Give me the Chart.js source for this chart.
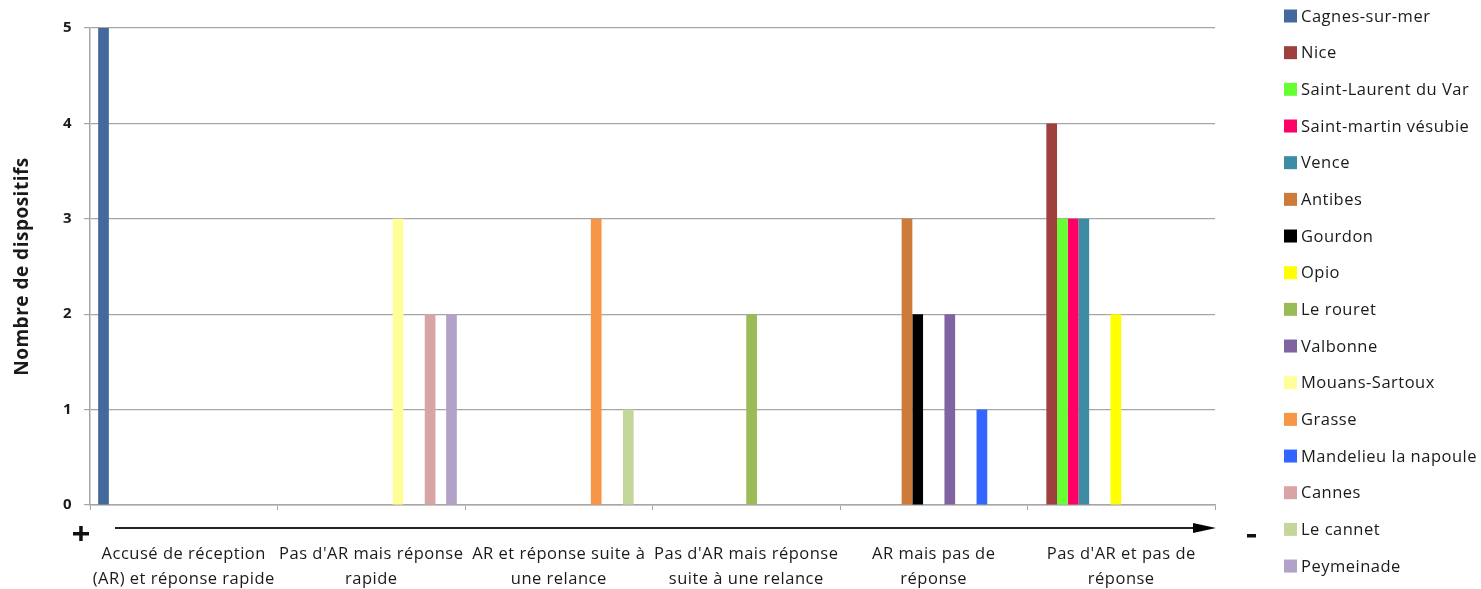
<!DOCTYPE html>
<html>
<head>
<meta charset="utf-8">
<script src="https://cdn.jsdelivr.net/npm/chart.js@4/dist/chart.umd.min.js"></script>
<style>
  html, body { margin: 0; padding: 0; background: #fff; }
  #wrap { width: 1481px; height: 589px; position: relative; }
</style>
</head>
<body>
<div id="wrap"><canvas id="chart"></canvas></div>
<script>
// Categories (x axis, two lines each)
const categories = [
    ['Accusé de réception', '(AR) et réponse rapide'],
    ["Pas d'AR mais réponse", 'rapide'],
    ['AR et réponse suite à', 'une relance'],
    ["Pas d'AR mais réponse", 'suite à une relance'],
    ['AR mais pas de', 'réponse'],
    ["Pas d'AR et pas de", 'réponse']
];

// Series names and colours
const seriesNames = [
    'Cagnes-sur-mer', 'Nice', 'Saint-Laurent du Var', 'Saint-martin vésubie',
    'Vence', 'Antibes', 'Gourdon', 'Opio', 'Le rouret', 'Valbonne',
    'Mouans-Sartoux', 'Grasse', 'Mandelieu la napoule', 'Cannes',
    'Le cannet', 'Peymeinade'
];
const seriesColors = [
    '#44699b', '#9e413e', '#66ff33', '#ff0066',
    '#3e8ca3', '#cc7b3a', '#000000', '#ffff00', '#9bbb59', '#8064a2',
    '#ffff99', '#f79646', '#3366ff', '#d8a5a4',
    '#c4d79b', '#b3a2c7'
];

// Values per series, one per category
const cagnes = [5, 0, 0, 0, 0, 0];
const nice = [0, 0, 0, 0, 0, 4];
const saintLaurent = [0, 0, 0, 0, 0, 3];
const saintMartin = [0, 0, 0, 0, 0, 3];
const vence = [0, 0, 0, 0, 0, 3];
const antibes = [0, 0, 0, 0, 3, 0];
const gourdon = [0, 0, 0, 0, 2, 0];
const opio = [0, 0, 0, 0, 0, 2];
const leRouret = [0, 0, 0, 2, 0, 0];
const valbonne = [0, 0, 0, 0, 2, 0];
const mouansSartoux = [0, 3, 0, 0, 0, 0];
const grasse = [0, 0, 3, 0, 0, 0];
const mandelieu = [0, 0, 0, 0, 1, 0];
const cannes = [0, 2, 0, 0, 0, 0];
const leCannet = [0, 0, 1, 0, 0, 0];
const peymeinade = [0, 2, 0, 0, 0, 0];

const seriesValues = [
    cagnes, nice, saintLaurent, saintMartin, vence, antibes, gourdon, opio,
    leRouret, valbonne, mouansSartoux, grasse, mandelieu, cannes, leCannet, peymeinade
];

// Y axis ticks
const yTicks = [0, 1, 2, 3, 4, 5];

const FONT = '"Open Sans", "Liberation Sans", sans-serif';
const GRID = '#a6a6a6';
const TEXT = '#1a1a1a';

// Slightly looser text, like the original rendering
const spacingPlugin = {
    id: 'spacing',
    beforeDraw(chart) {
        chart.ctx.letterSpacing = '0.5px';
    }
};

// Legend, arrow and +/- markers drawn on top of the chart
const extrasPlugin = {
    id: 'extras',
    afterDraw(chart) {
        const ctx = chart.ctx;
        const area = chart.chartArea;
        ctx.save();

        // arrow under the x axis
        const ay = 528;
        ctx.strokeStyle = '#222';
        ctx.lineWidth = 2;
        ctx.beginPath();
        ctx.moveTo(115, ay);
        ctx.lineTo(area.right - 16, ay);
        ctx.stroke();
        ctx.fillStyle = '#000';
        ctx.beginPath();
        ctx.moveTo(area.right + 1, ay);
        ctx.lineTo(area.right - 22, ay - 5);
        ctx.lineTo(area.right - 22, ay + 5);
        ctx.closePath();
        ctx.fill();

        // + and - signs
        ctx.fillStyle = '#111';
        ctx.fillRect(73, 532, 16, 3.5);
        ctx.fillRect(79.2, 526, 3.5, 15);
        ctx.fillRect(1247, 534, 9, 3.5);

        // legend
        ctx.font = '16.5px ' + FONT;
        ctx.textAlign = 'left';
        ctx.textBaseline = 'middle';
        chart.data.datasets.forEach((ds, i) => {
            const y = 16 + i * 36.67;
            ctx.fillStyle = ds.backgroundColor;
            ctx.fillRect(1284, y - 6.5, 13, 13);
            ctx.fillStyle = TEXT;
            ctx.fillText(ds.label, 1301, y + 1);
        });

        ctx.restore();
    }
};

new Chart(document.getElementById('chart'), {
    type: 'bar',
    data: {
        labels: categories,
        datasets: seriesNames.map((name, i) => ({
            label: name,
            data: seriesValues[i],
            backgroundColor: seriesColors[i],
            borderWidth: 0,
            barPercentage: 1,
            categoryPercentage: 0.913
        }))
    },
    options: {
        responsive: true,
        maintainAspectRatio: false,
        animation: false,
        layout: {
            padding: { top: 28, right: 266, bottom: 0, left: 0 }
        },
        plugins: {
            legend: { display: false },
            title: { display: false },
            tooltip: { enabled: false }
        },
        scales: {
            x: {
                grid: {
                    display: true,
                    drawOnChartArea: false,
                    tickLength: 5,
                    color: GRID
                },
                border: { color: GRID, width: 1.5 },
                ticks: {
                    autoSkip: false,
                    maxRotation: 0,
                    minRotation: 0,
                    padding: 32,
                    color: TEXT,
                    font: { family: FONT, size: 16.5, lineHeight: 1.52 }
                },
                afterFit(scale) { scale.height = 84; }
            },
            y: {
                min: 0,
                max: 5,
                afterBuildTicks(scale) {
                    scale.ticks = yTicks.map(v => ({ value: v }));
                },
                grid: {
                    color: GRID,
                    lineWidth: 1.2,
                    tickLength: 6
                },
                border: { color: GRID, width: 1.5 },
                ticks: {
                    padding: 12,
                    color: TEXT,
                    font: { family: FONT, size: 15, weight: 'bold' }
                },
                title: {
                    display: true,
                    text: 'Nombre de dispositifs',
                    color: TEXT,
                    padding: { top: 11, bottom: 0 },
                    font: { family: FONT, size: 19, weight: 'bold' }
                },
                afterFit(scale) { scale.width = 90; }
            }
        }
    },
    plugins: [spacingPlugin, extrasPlugin]
});
</script>
</body>
</html>
